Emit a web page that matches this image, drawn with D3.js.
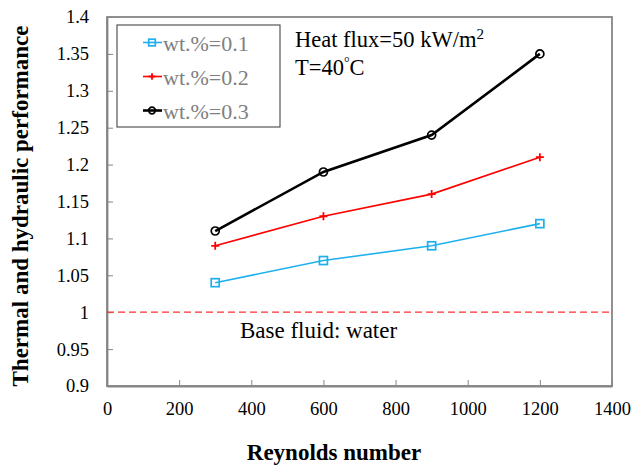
<!DOCTYPE html>
<html>
<head>
<meta charset="utf-8">
<script src="https://cdn.jsdelivr.net/npm/d3@7"></script>
<style>
  body { margin: 0; background: #fff; }
  text { font-family: "Liberation Serif", "Times New Roman", serif; }
</style>
</head>
<body>
<div class="chart"></div>
<script>
var reynolds = [300, 600, 900, 1200];
var wt01 = [1.04, 1.07, 1.09, 1.12];
var wt02 = [1.09, 1.13, 1.16, 1.21];
var wt03 = [1.11, 1.19, 1.24, 1.35];
var seriesNames = ["wt.%=0.1", "wt.%=0.2", "wt.%=0.3"];
var xTicks = [0, 200, 400, 600, 800, 1000, 1200, 1400];
var yTicks = [0.9, 0.95, 1, 1.05, 1.1, 1.15, 1.2, 1.25, 1.3, 1.35, 1.4];

var margin = { top: 17, right: 20, bottom: 79, left: 107 };
var svgWidth = 632, svgHeight = 465;
var width = svgWidth - margin.left - margin.right;
var height = svgHeight - margin.top - margin.bottom;

var svg = d3.select(".chart").append("svg")
  .attr("width", svgWidth)
  .attr("height", svgHeight);

var canvas = svg.append("g")
  .attr("transform", "translate(" + margin.left + "," + margin.top + ")");

var xScale = d3.scaleLinear().domain([0, 1400]).range([0, width]);
var yScale = d3.scaleLinear().domain([0.9, 1.4]).range([height, 0]);

var axisColor = "#858585";

// frame
canvas.append("rect")
  .attr("width", width).attr("height", height)
  .attr("fill", "none").attr("stroke", axisColor).attr("stroke-width", 1.8);

// x axis, ticks pointing in
var xAxis = canvas.append("g")
  .attr("transform", "translate(0," + height + ")")
  .call(d3.axisBottom(xScale).tickValues(xTicks).tickSizeInner(-6).tickSizeOuter(0).tickPadding(16).tickFormat(d3.format("d")));
xAxis.select(".domain").attr("stroke", axisColor).attr("stroke-width", 1.8);
xAxis.selectAll(".tick line").attr("stroke", axisColor);
xAxis.selectAll("text").attr("font-size", 18.5).attr("fill", "#000")
  .style("font-family", "Liberation Serif");

var yAxis = canvas.append("g")
  .call(d3.axisLeft(yScale).tickValues(yTicks).tickSizeInner(-6).tickSizeOuter(0).tickPadding(18).tickFormat(function (d) { return String(+d.toFixed(2)); }));
yAxis.select(".domain").attr("stroke", axisColor).attr("stroke-width", 1.8);
yAxis.selectAll(".tick line").attr("stroke", axisColor);
yAxis.selectAll("text").attr("font-size", 18.5).attr("fill", "#000")
  .style("font-family", "Liberation Serif");

// base line
canvas.append("line")
  .attr("x1", 0).attr("x2", width)
  .attr("y1", yScale(1)).attr("y2", yScale(1))
  .attr("stroke", "#ff3030").attr("stroke-width", 1.2)
  .attr("stroke-dasharray", "7,4");

svg.append("text")
  .attr("x", 240).attr("y", 338)
  .attr("font-size", 23)
  .text("Base fluid: water");

var series = [
  { name: seriesNames[0], values: wt01, color: "#1eb0ee", width: 1.6, marker: "square" },
  { name: seriesNames[1], values: wt02, color: "#ff0000", width: 1.6, marker: "plus" },
  { name: seriesNames[2], values: wt03, color: "#000000", width: 2.6, marker: "circle" }
];

var line = d3.line()
  .x(function (d, i) { return xScale(reynolds[i]); })
  .y(function (d) { return yScale(d); });

function drawMarker(g, type, color, size) {
  if (type === "square") {
    g.append("rect").attr("x", -size).attr("y", -size).attr("width", size * 2).attr("height", size * 2)
      .attr("fill", "none").attr("stroke", color).attr("stroke-width", 1.7);
  } else if (type === "plus") {
    g.append("path").attr("d", "M" + (-size) + ",0H" + size + "M0," + (-size) + "V" + size)
      .attr("stroke", color).attr("stroke-width", 1.8);
  } else {
    g.append("circle").attr("r", size)
      .attr("fill", "none").attr("stroke", color).attr("stroke-width", 1.7);
  }
}

series.forEach(function (s) {
  canvas.append("path")
    .datum(s.values)
    .attr("fill", "none")
    .attr("stroke", s.color)
    .attr("stroke-width", s.width)
    .attr("d", line);
  s.values.forEach(function (v, i) {
    var g = canvas.append("g")
      .attr("transform", "translate(" + xScale(reynolds[i]) + "," + yScale(v) + ")");
    drawMarker(g, s.marker, s.color, 4);
  });
});

// legend
var legend = svg.append("g").attr("transform", "translate(117,25)");
legend.append("rect")
  .attr("width", 163).attr("height", 102)
  .attr("fill", "#fff").attr("stroke", "#555").attr("stroke-width", 1.2);
series.forEach(function (s, i) {
  var row = legend.append("g").attr("transform", "translate(0," + (17.5 + i * 34) + ")");
  row.append("line").attr("x1", 26).attr("x2", 45).attr("y1", 0).attr("y2", 0)
    .attr("stroke", s.color).attr("stroke-width", s.width);
  var m = row.append("g").attr("transform", "translate(35,0)");
  drawMarker(m, s.marker, s.color, 3.3);
  row.append("text").attr("x", 46).attr("y", 8.5)
    .attr("font-size", 22).attr("fill", "#808080")
    .text(s.name);
});

// annotation
var note = svg.append("text").attr("x", 295).attr("y", 47).attr("font-size", 22.5);
note.append("tspan").text("Heat flux=50 kW/m");
note.append("tspan").attr("font-size", 15).attr("dy", -8).text("2");
var note2 = svg.append("text").attr("x", 295).attr("y", 75).attr("font-size", 22.5);
note2.append("tspan").text("T=40");
note2.append("tspan").attr("font-size", 14).attr("dy", -8).text("\u00b0");
note2.append("tspan").attr("dy", 8).text("C");

// axis titles
svg.append("text")
  .attr("x", 334).attr("y", 460)
  .attr("text-anchor", "middle")
  .attr("font-size", 23).attr("font-weight", "bold")
  .text("Reynolds number");

svg.append("text")
  .attr("transform", "translate(28,206) rotate(-90)")
  .attr("text-anchor", "middle")
  .attr("font-size", 23).attr("font-weight", "bold")
  .text("Thermal and hydraulic performance");
</script>
</body>
</html>
